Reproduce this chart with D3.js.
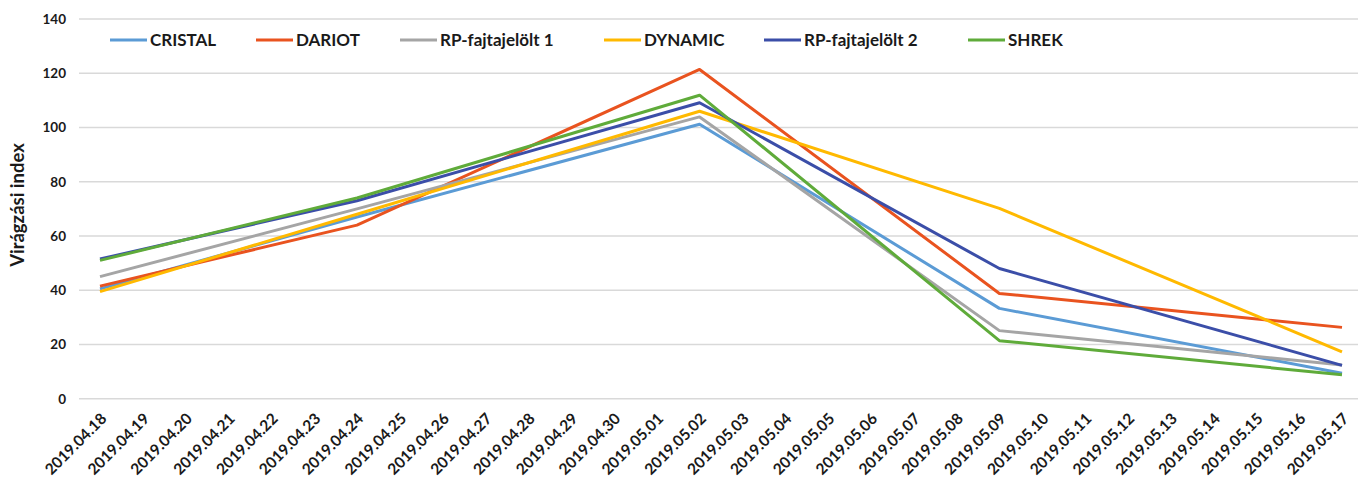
<!DOCTYPE html>
<html>
<head>
<meta charset="utf-8">
<script src="https://cdn.jsdelivr.net/npm/d3@7"></script>
<style>
  html, body { margin: 0; padding: 0; background: #fff; }
  svg text { font-family: Lato, "Open Sans", sans-serif; font-weight: 700; fill: #1a1a1a; }
</style>
</head>
<body>
<svg id="chart" width="1365" height="488"></svg>
<script>
// Observation days on the category axis
const dates = [
  "2019.04.18","2019.04.19","2019.04.20","2019.04.21","2019.04.22","2019.04.23",
  "2019.04.24","2019.04.25","2019.04.26","2019.04.27","2019.04.28","2019.04.29",
  "2019.04.30","2019.05.01","2019.05.02","2019.05.03","2019.05.04","2019.05.05",
  "2019.05.06","2019.05.07","2019.05.08","2019.05.09","2019.05.10","2019.05.11",
  "2019.05.12","2019.05.13","2019.05.14","2019.05.15","2019.05.16","2019.05.17"
];
// Days on which the flowering index was recorded
const measuredDates = ["2019.04.18","2019.04.24","2019.05.02","2019.05.09","2019.05.17"];

const seriesNames = ["CRISTAL","DARIOT","RP-fajtajelölt 1","DYNAMIC","RP-fajtajelölt 2","SHREK"];
const cristal = [40.5, 67, 101.2, 33.3, 9.4];
const dariot  = [41.5, 64, 121.4, 38.8, 26.3];
const rp1     = [45, 70, 103.9, 25.1, 12.4];
const dynamic = [39.5, 68, 106, 70.2, 17.3];
const rp2     = [51.5, 73, 109.1, 48, 12.3];
const shrek   = [51, 74, 111.9, 21.4, 8.8];
const seriesValues = [cristal, dariot, rp1, dynamic, rp2, shrek];
const seriesColors = ["#5b9bd5","#e9531f","#a5a5a5","#ffb900","#3b4ea8","#5fab3a"];

const yTicks = [0,20,40,60,80,100,120,140];

const svg = d3.select("#chart");
const plot = { left: 79, right: 1358, top: 19, bottom: 398.7 };

const x = d3.scalePoint().domain(dates).range([100, 1342]);
const y = d3.scaleLinear().domain([0, 140]).range([plot.bottom, plot.top]);

// horizontal gridlines
svg.append("g").selectAll("line").data(yTicks).join("line")
  .attr("x1", plot.left).attr("x2", plot.right)
  .attr("y1", d => y(d)).attr("y2", d => y(d))
  .attr("stroke", "#d9d9d9").attr("stroke-width", 1.5);

// y axis labels
const yAxis = d3.axisLeft(y).tickValues(yTicks).tickSize(0).tickPadding(0);
const gy = svg.append("g").attr("transform", `translate(66,0)`).call(yAxis);
gy.select(".domain").remove();
gy.selectAll("text").style("font-size", "13.5px").style("font-family", "Lato, sans-serif").attr("fill", "#1a1a1a");

// x axis labels, rotated
const xAxis = d3.axisBottom(x).tickSize(0).tickPadding(0);
const gx = svg.append("g").attr("transform", `translate(0,${plot.bottom})`).call(xAxis);
gx.select(".domain").remove();
gx.selectAll("text")
  .style("font-size", "15.5px").style("font-family", "Lato, sans-serif").attr("fill", "#1a1a1a")
  .attr("text-anchor", "end")
  .attr("dy", "0")
  .attr("transform", "translate(7,21) rotate(-45)");

// y axis title
svg.append("text")
  .attr("transform", "translate(24,205) rotate(-90)")
  .attr("text-anchor", "middle")
  .style("font-size", "18.5px")
  .text("Virágzási index");

// series lines
const line = d3.line().x(d => x(d.date)).y(d => y(d.value));
seriesNames.forEach((name, i) => {
  const pts = measuredDates.map((d, j) => ({ date: d, value: seriesValues[i][j] }));
  svg.append("path")
    .datum(pts)
    .attr("d", line)
    .attr("fill", "none")
    .attr("stroke", seriesColors[i])
    .attr("stroke-width", 3)
    .attr("stroke-linejoin", "round");
});

// legend
const legendX = [110, 256, 400, 604, 764, 968];
const lg = svg.append("g");
seriesNames.forEach((name, i) => {
  const g = lg.append("g").attr("transform", `translate(${legendX[i]},40)`);
  g.append("line").attr("x1", 0).attr("x2", 37).attr("y1", 0).attr("y2", 0)
    .attr("stroke", seriesColors[i]).attr("stroke-width", 3);
  g.append("text").attr("x", 40).attr("y", 0).attr("dy", "0.36em")
    .style("font-size", "17px").text(name);
});
</script>
</body>
</html>
